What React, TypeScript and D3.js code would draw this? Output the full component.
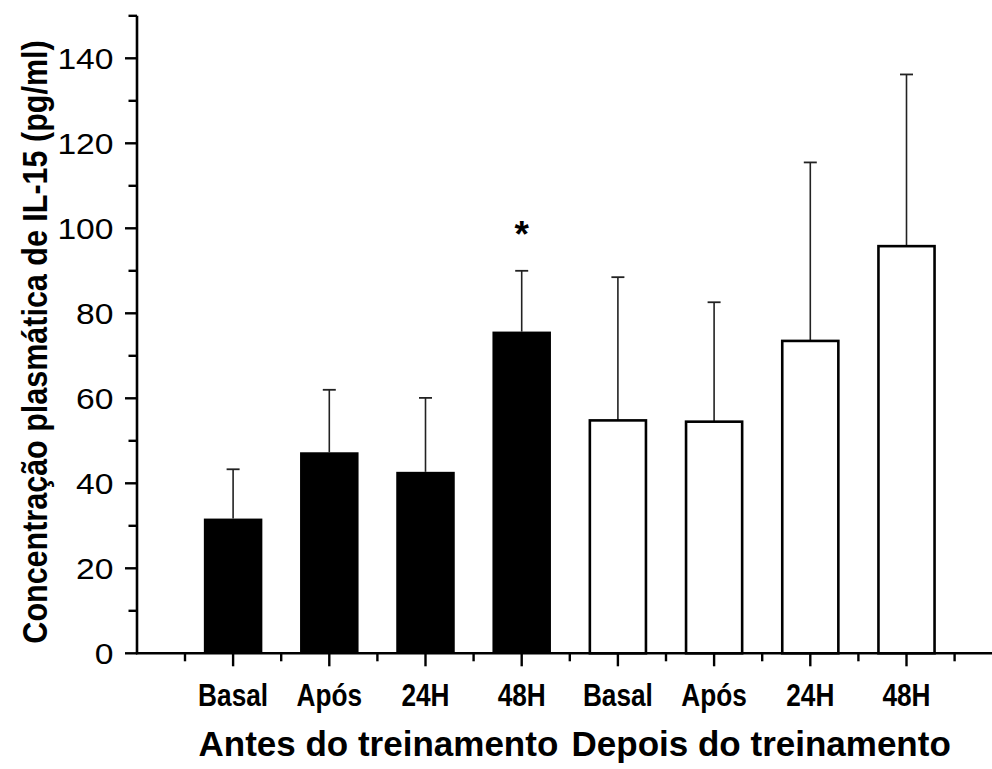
import React from "react";
import * as d3 from "d3";

const categories = ["Basal", "Após", "24H", "48H", "Basal", "Após", "24H", "48H"];
const groups = ["Antes do treinamento", "Depois do treinamento"];
const groupOf = [0, 0, 0, 0, 1, 1, 1, 1];
const means = [31.7, 47.3, 42.7, 75.7, 54.8, 54.5, 73.5, 95.8];
const errors = [11.6, 14.7, 17.4, 14.3, 33.7, 28.1, 42.0, 40.4];
const yTicks = [0, 20, 40, 60, 80, 100, 120, 140];
const yMinorTicks = [10, 30, 50, 70, 90, 110, 130, 150];
const significant = [false, false, false, true, false, false, false, false];
const yTitle = "Concentração plasmática de IL-15 (pg/ml)";

const W = 992;
const H = 769;
const FONT = "'Liberation Sans', Arial, Helvetica, sans-serif";

export default function App() {
  const y = d3.scaleLinear().domain([0, 150]).range([653.3, 15.8]);
  const x = d3.scaleLinear().domain([-0.5, 7.5]).range([185, 954.6]);
  const barW = 58.5;
  const axisX = 137;
  const axisY = y(0);
  const minorX = d3.range(-0.5, 8.0, 1);

  return (
    <svg
      width={W}
      height={H}
      style={{ position: "absolute", left: 0, top: 0, background: "#fff" }}
    >
      <rect x={0} y={0} width={W} height={H} fill="#fff" />
      {/* bars */}
      {means.map((m, i) => {
        const cx = x(i);
        const filled = groupOf[i] === 0;
        return (
          <g key={"b" + i}>
            <line
              x1={cx}
              x2={cx}
              y1={y(m)}
              y2={y(m + errors[i])}
              stroke="#222"
              strokeWidth={1.6}
            />
            <line
              x1={cx - 6.5}
              x2={cx + 6.5}
              y1={y(m + errors[i])}
              y2={y(m + errors[i])}
              stroke="#222"
              strokeWidth={1.8}
            />
            {filled ? (
              <rect
                x={cx - barW / 2}
                y={y(m)}
                width={barW}
                height={axisY - y(m)}
                fill="#000"
              />
            ) : (
              <rect
                x={cx - barW / 2 + 1.2}
                y={y(m)}
                width={barW - 2.4}
                height={axisY - y(m)}
                fill="#fff"
                stroke="#000"
                strokeWidth={2.6}
              />
            )}
            {significant[i] && (
              <text
                x={cx}
                y={y(m + errors[i]) - 24}
                textAnchor="middle"
                fontFamily={FONT}
                fontWeight="bold"
                fontSize={37}
                fill="#000"
              >
                *
              </text>
            )}
          </g>
        );
      })}

      {/* y axis */}
      <line x1={axisX} x2={axisX} y1={y(150)} y2={axisY + 1} stroke="#000" strokeWidth={2.6} />
      {yTicks.map((t) => (
        <g key={"yt" + t}>
          <line x1={axisX - 12} x2={axisX} y1={y(t)} y2={y(t)} stroke="#000" strokeWidth={2.4} />
          <text
            transform={`translate(113.5, ${y(t)}) scale(1.14, 1)`}
            textAnchor="end"
            dominantBaseline="central"
            fontFamily={FONT}
            fontSize={29.5}
            fill="#000"
          >
            {t}
          </text>
        </g>
      ))}
      {yMinorTicks.map((t) => (
        <line key={"ym" + t} x1={axisX - 8.5} x2={axisX} y1={y(t)} y2={y(t)} stroke="#000" strokeWidth={2.4} />
      ))}

      {/* x axis */}
      <line x1={axisX - 1} x2={W} y1={axisY} y2={axisY} stroke="#000" strokeWidth={2.6} />
      {categories.map((c, i) => (
        <g key={"xt" + i}>
          <line x1={x(i)} x2={x(i)} y1={axisY} y2={axisY + 13} stroke="#000" strokeWidth={2.4} />
          <text
            transform={`translate(${x(i)}, 705.5) scale(0.86, 1)`}
            textAnchor="middle"
            fontFamily={FONT}
            fontWeight="bold"
            fontSize={30.5}
            fill="#000"
          >
            {c}
          </text>
        </g>
      ))}
      {minorX.map((v) => (
        <line key={"xm" + v} x1={x(v)} x2={x(v)} y1={axisY} y2={axisY + 8} stroke="#000" strokeWidth={2.4} />
      ))}

      {/* group labels */}
      {groups.map((g, gi) => {
        const idx = groupOf.map((v, i) => (v === gi ? i : -1)).filter((i) => i >= 0);
        const cx = (x(idx[0]) + x(idx[idx.length - 1])) / 2 + (gi === 0 ? 1 : -1);
        return (
          <text
            key={"g" + gi}
            x={cx}
            y={756}
            textAnchor="middle"
            fontFamily={FONT}
            fontWeight="bold"
            fontSize={35}
            fill="#000"
          >
            {g}
          </text>
        );
      })}

      {/* y title */}
      <text
        transform={`translate(47, 342) rotate(-90) scale(1, 1.12)`}
        textAnchor="middle"
        fontFamily={FONT}
        fontWeight="bold"
        fontSize={30.5}
        fill="#000"
      >
        {yTitle}
      </text>
    </svg>
  );
}
